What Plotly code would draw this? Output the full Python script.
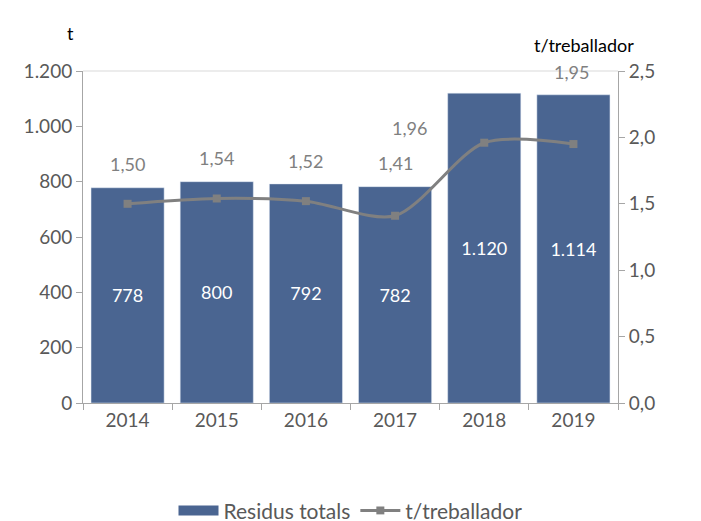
import plotly.graph_objects as go

years = ["2014", "2015", "2016", "2017", "2018", "2019"]
residus = [778, 800, 792, 782, 1120, 1114]
ratio = [1.50, 1.54, 1.52, 1.41, 1.96, 1.95]
ratio_labels = ["1,50", "1,54", "1,52", "1,41", "1,96", "1,95"]

FONT = "Lato"
TICK = "#595959"
GRAY = "#808080"
BLUE = "#4a6591"

fig = go.Figure()
fig.add_trace(go.Bar(
    x=years, y=residus, name="Residus totals", marker_color=BLUE,
    texttemplate="%{y:,d}", textposition="inside", insidetextanchor="middle",
    textfont=dict(color="white", size=18, family=FONT), yaxis="y",
    showlegend=False,
))
# legend entry drawn as a wide swatch like the original
fig.add_trace(go.Scatter(
    x=[None], y=[None], name="Residus totals", mode="lines",
    line=dict(color=BLUE, width=14), yaxis="y",
))
fig.add_trace(go.Scatter(
    x=years, y=ratio, name="t/treballador", mode="lines+markers",
    line=dict(color=GRAY, width=3, shape="spline", smoothing=0.8),
    marker=dict(symbol="square", size=8, color=GRAY), yaxis="y2",
))

# line labels (offsets as in the original); x given as category index
shifts = [(0, 40), (0, 40), (0, 40), (0, 53), (-75, 15), (-2, 72)]
for i, (v, lab, (dx, dy)) in enumerate(zip(ratio, ratio_labels, shifts)):
    fig.add_annotation(x=i, y=v, xref="x", yref="y2", text=lab, showarrow=False,
                       xshift=dx, yshift=dy, font=dict(color=GRAY, size=18, family=FONT))

fig.add_annotation(x=-0.034, y=1.154, xref="paper", yref="paper", text="t", showarrow=False,
                   font=dict(color="#000", size=18, family=FONT))
fig.add_annotation(x=1.034, y=1.117, xref="paper", yref="paper", text="t/treballador",
                   showarrow=False, font=dict(color="#000", size=18, family=FONT))

fig.add_shape(type="line", xref="paper", yref="paper", x0=0, x1=1, y0=1, y1=1,
              line=dict(color="#d9d9d9", width=1))

# the page body has an 8px margin, so the figure is sized to sit inside the window
fig.update_layout(
    width=693, height=513, separators=",.",
    plot_bgcolor="white", paper_bgcolor="white",
    margin=dict(l=75, r=83, t=63, b=118, autoexpand=False),
    bargap=0.18,
    font=dict(family=FONT, color=TICK, size=18),
    xaxis=dict(type="category", range=[-0.5, len(years) - 0.5], autorange=False,
               showline=True, linecolor="#a6a6a6", ticks="outside",
               tickson="boundaries", ticklen=6, tickcolor="#a6a6a6",
               tickfont=dict(size=19, color=TICK)),
    yaxis=dict(range=[0, 1200], dtick=200, tickformat=",d", showgrid=False,
               showline=True, linecolor="#a6a6a6", ticks="outside", ticklen=6,
               tickcolor="#a6a6a6", tickfont=dict(size=19, color=TICK)),
    yaxis2=dict(range=[0, 2.5], dtick=0.5, tickformat=".1f", overlaying="y", side="right",
                showgrid=False, showline=True, linecolor="#a6a6a6", ticks="outside",
                ticklen=6, tickcolor="#a6a6a6", tickfont=dict(size=19, color=TICK)),
    legend=dict(orientation="h", x=0.5, xanchor="center", yref="container", y=0.02,
                yanchor="middle", font=dict(size=21, color=TICK), itemwidth=40),
)

fig.write_html("out.html")
